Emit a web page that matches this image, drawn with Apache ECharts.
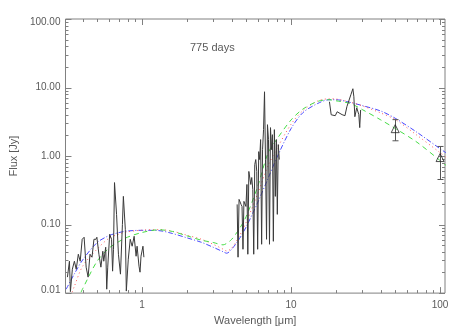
<!DOCTYPE html>
<html><head><meta charset="utf-8">
<script src="https://cdn.jsdelivr.net/npm/echarts@6/dist/echarts.min.js"></script>
<style>html,body{margin:0;padding:0;background:#fff}#c{width:463px;height:331px}</style>
</head><body><div id="c"></div>
<script>
// Observed spectrum: optical part
const optWave = [0.316,0.326,0.331,0.341,0.352,0.362,0.374,0.385,0.397,0.409,0.422,0.435,0.448,0.462,0.476,0.491,0.498,0.514,0.530,0.546,0.554,0.571,0.580,0.589,0.607,0.625,0.635,0.644,0.654,0.675,0.695,0.717,0.739,0.750,0.773,0.785,0.809,0.834,0.859,0.886,0.913,0.927,0.955,0.970,0.985,1.015,1.03];
const optFlux = [0.0171,0.0292,0.0105,0.0223,0.0292,0.0223,0.0369,0.0292,0.061,0.0653,0.0239,0.0171,0.0369,0.0334,0.061,0.061,0.0653,0.0369,0.0239,0.0408,0.0292,0.0467,0.0114,0.0239,0.0721,0.061,0.0209,0.0436,0.41,0.141,0.0369,0.0189,0.1,0.258,0.0853,0.0107,0.0312,0.061,0.0483,0.0675,0.0345,0.0483,0.0247,0.0202,0.0345,0.0483,0.0334];
// Observed spectrum: mid-IR part
const irWave = [4.35,4.41,4.48,4.62,4.69,4.76,4.83,4.98,5.06,5.13,5.21,5.29,5.37,5.45,5.54,5.62,5.71,5.80,5.89,5.97,6.07,6.16,6.25,6.35,6.44,6.54,6.64,6.74,6.85,6.95,7.06,7.17,7.28,7.39,7.50,7.61,7.73,7.85,7.97,8.09,8.21,8.34];
const irFlux = [0.197,0.0334,0.233,0.197,0.184,0.0436,0.218,0.184,0.385,0.0369,0.596,0.636,0.385,0.486,0.326,0.0369,0.752,0.889,0.596,0.0436,1.16,0.889,1.74,0.0516,1.24,2.43,8.67,0.889,0.061,2.87,1.74,0.0516,2.60,1.24,2.05,0.057,2.43,0.258,1.74,0.141,1.47,0.889];
// Observed spectrum: far-IR part
const firWave = [18.1,18.6,18.9,19.8,20.4,21.0,22.0,23.0,23.7,24.4,25.2,26.0,26.4,26.8,27.6,28.5,28.9,29.3];
const firFlux = [6.2,4.0,3.88,3.88,4.43,4.29,4.02,3.88,5.25,5.61,7.85,9.6,7.33,3.75,5.07,4.02,2.6,4.7];
// Photometric points with error bars
const photWave = [50, 100];
const photFlux = [2.51, 0.95];
const photLow = [1.67, 0.455];
const photHigh = [3.4, 1.38];
// Model curves
const blueWave = [0.31,0.35,0.4,0.5,0.6,0.7,0.8,1.0,1.3,1.6,2.0,2.5,3.0,3.5,3.7,4.0,4.5,5,6,7,8,10,12,15,18,20,25,30,40,50,70,100,110];
const blueFlux = [0.0114,0.0187,0.0305,0.0546,0.069,0.0764,0.0806,0.0825,0.0816,0.0741,0.0641,0.0552,0.0467,0.0402,0.0382,0.0438,0.0621,0.0925,0.214,0.468,0.929,2.51,4.29,5.81,6.64,6.64,6.06,5.46,4.54,3.56,2.22,1.28,1.11];
const redWave = [0.34,0.35,0.4,0.5,0.6,0.7,0.8,1.0,1.3,1.6,2.0,2.5,3.0,3.5,3.7,4.0,4.5,5,6,7,8,10,12,15,18,20,25,30,40,50,70,100,110];
const redFlux = [0.0103,0.0122,0.0247,0.0439,0.0631,0.0725,0.0785,0.0828,0.0845,0.080,0.070,0.0612,0.0516,0.0438,0.0412,0.0454,0.0678,0.108,0.29,0.719,1.26,2.91,4.59,6.32,6.85,6.8,6.1,5.41,4.25,3.41,2.01,1.12,0.95];
const greenWave = [0.39,0.4,0.5,0.6,0.7,0.8,1.0,1.3,1.6,2.0,2.5,3.0,3.5,3.7,4.0,4.5,5,6,7,8,10,12,15,18,20,25,30,40,50,70,100,110];
const greenFlux = [0.0103,0.0116,0.0292,0.0452,0.0565,0.0655,0.0766,0.084,0.0794,0.0686,0.0592,0.0548,0.0506,0.0532,0.061,0.0867,0.131,0.37,1.10,1.74,3.36,4.84,6.25,6.64,6.41,5.85,4.78,3.37,2.53,1.59,0.861,0.728];
// Tick values
const xMajorTicks = [1, 10, 100];
const xMinorTicks = [0.4,0.5,0.6,0.7,0.8,0.9,2,3,4,5,6,7,8,9,20,30,40,50,60,70,80,90];
const yMajorTicks = [0.01, 0.1, 1, 10, 100];
const yMinorTicks = [0.02,0.03,0.04,0.05,0.06,0.07,0.08,0.09,0.2,0.3,0.4,0.5,0.6,0.7,0.8,0.9,2,3,4,5,6,7,8,9,20,30,40,50,60,70,80,90];
const xLabels = ['1', '10', '100'];

const AX = '#808080', TXT = '#5a5a5a';
const zip = (a, b) => a.map((v, i) => [v, b[i]]);

function tickSeries(values, isX, len) {
  return {
    type: 'custom', silent: true, z: 5,
    data: values.map(v => isX ? [v, 1] : [1, v]),
    renderItem(params, api) {
      const cs = params.coordSys;
      const p = api.coord([api.value(0), api.value(1)]);
      const st = { stroke: AX, lineWidth: 1 };
      if (isX) {
        const x = Math.round(p[0]) + 0.5, yb = cs.y + cs.height, yt = cs.y;
        return { type: 'group', children: [
          { type: 'line', shape: { x1: x, y1: yb, x2: x, y2: yb - len }, style: st },
          { type: 'line', shape: { x1: x, y1: yt, x2: x, y2: yt + len }, style: st }
        ]};
      } else {
        const y = Math.round(p[1]) + 0.5, xl = cs.x, xr = cs.x + cs.width;
        return { type: 'group', children: [
          { type: 'line', shape: { x1: xl, y1: y, x2: xl + len, y2: y }, style: st },
          { type: 'line', shape: { x1: xr, y1: y, x2: xr - len, y2: y }, style: st }
        ]};
      }
    }
  };
}

const isDecade = v => Math.abs(Math.log10(v) - Math.round(Math.log10(v))) < 1e-6;

const chart = echarts.init(document.getElementById('c'), null, { renderer: 'canvas' });
chart.setOption({
  animation: false,
  backgroundColor: '#fff',
  textStyle: { fontFamily: 'Liberation Sans, Arial, sans-serif' },
  title: { text: '775 days', left: 185, top: 37, textStyle: { fontSize: 11, fontWeight: 'normal', color: TXT, fontFamily: 'Liberation Sans' } },
  grid: { left: 58, right: 18, top: 19, bottom: 37, show: true, borderColor: AX, borderWidth: 1, backgroundColor: 'transparent' },
  xAxis: {
    type: 'log', logBase: 10, min: 0.3067, max: 107.9,
    name: 'Wavelength [μm]', nameLocation: 'middle', nameGap: 15,
    nameTextStyle: { fontSize: 11, color: TXT, fontFamily: 'Liberation Sans' },
    axisLine: { show: false }, axisTick: { show: false }, splitLine: { show: false },
    axisLabel: { color: TXT, fontSize: 10, margin: 7, fontFamily: 'Liberation Sans',
      formatter: v => { if (!isDecade(v)) return ''; const k = Math.round(Math.log10(v)); return k >= 0 && k <= 2 ? xLabels[k] : ''; } }
  },
  yAxis: {
    type: 'log', logBase: 10, min: 0.01, max: 100,
    name: 'Flux [Jy]', nameLocation: 'middle', nameGap: 44,
    nameTextStyle: { fontSize: 11, color: TXT, fontFamily: 'Liberation Sans' },
    axisLine: { show: false }, axisTick: { show: false }, splitLine: { show: false },
    axisLabel: { color: TXT, fontSize: 10, margin: 5, fontFamily: 'Liberation Sans',
      formatter: v => { const s = v.toFixed(2); const k = Math.round(Math.log10(v)); return k === 2 ? '{t|' + s + '}' : (k === -2 ? '{b|' + s + '}' : s); },
      rich: { t: { padding: [6, 0, 0, 0], fontSize: 10, color: TXT }, b: { padding: [0, 0, 6, 0], fontSize: 10, color: TXT } } }
  },
  series: [
    tickSeries(xMajorTicks, true, 6),
    tickSeries(xMinorTicks, true, 3),
    tickSeries(yMajorTicks, false, 6),
    tickSeries(yMinorTicks, false, 3),
    { type: 'line', data: zip(blueWave, blueFlux), symbol: 'none', smooth: 0.3, lineStyle: { color: '#4a4aff', width: 1, type: [5, 2, 1, 2] } },
    { type: 'line', data: zip(redWave, redFlux), symbol: 'none', smooth: 0.3, lineStyle: { color: '#ff5a5a', width: 1, type: [1, 3] } },
    { type: 'line', data: zip(greenWave, greenFlux), symbol: 'none', smooth: 0.3, lineStyle: { color: '#46dc46', width: 1, type: [5, 4] } },
    { type: 'line', data: zip(optWave, optFlux), symbol: 'none', lineStyle: { color: '#3a3a3a', width: 1 } },
    { type: 'line', data: zip(irWave, irFlux), symbol: 'none', lineStyle: { color: '#3a3a3a', width: 1 } },
    { type: 'line', data: zip(firWave, firFlux), symbol: 'none', lineStyle: { color: '#3a3a3a', width: 1 } },
    { type: 'custom', z: 6,
      data: photWave.map((w, i) => [w, photLow[i], photHigh[i]]),
      renderItem(params, api) {
        const lo = api.coord([api.value(0), api.value(1)]);
        const hi = api.coord([api.value(0), api.value(2)]);
        const x = Math.round(lo[0]) + 0.5, st = { stroke: '#555', lineWidth: 1 };
        return { type: 'group', children: [
          { type: 'line', shape: { x1: x, y1: lo[1], x2: x, y2: hi[1] }, style: st },
          { type: 'line', shape: { x1: x - 3, y1: lo[1], x2: x + 3, y2: lo[1] }, style: st },
          { type: 'line', shape: { x1: x - 3, y1: hi[1], x2: x + 3, y2: hi[1] }, style: st }
        ]};
      }
    },
    { type: 'scatter', z: 7, data: zip(photWave, photFlux), symbol: 'triangle', symbolSize: 8,
      itemStyle: { color: 'rgba(255,255,255,0)', borderColor: '#222', borderWidth: 1 } }
  ]
});
</script></body></html>
